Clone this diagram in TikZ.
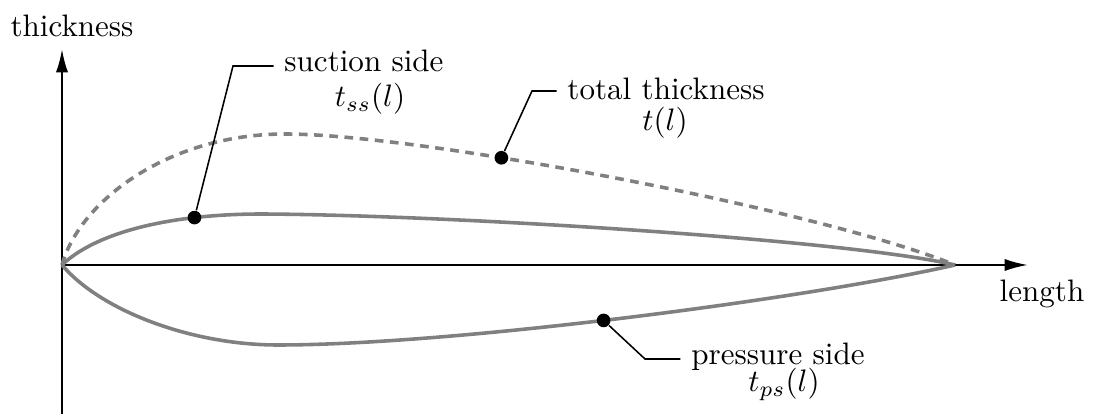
\documentclass[tikz,border=0pt]{standalone}
\usetikzlibrary{arrows.meta}
\begin{document}
\begin{tikzpicture}[x=0.322pt,y=-0.322pt,
  axis/.style={line width=0.7pt,-{Latex[length=7.5pt,width=3.9pt]}},
  prof/.style={gray,line width=1.15pt},
  tot/.style={gray,line width=1.15pt,dash pattern=on 2.8pt off 2.1pt},
  lead/.style={line width=0.5pt},
  dot/.style={circle,fill=black,inner sep=0pt,minimum size=4.4pt},
  lab/.style={anchor=base,inner sep=3.33pt}]
\useasboundingbox (0,0) rectangle (1095,414);
% axes
\coordinate (O) at (62,265);
\coordinate (ybot) at (62,414);
\coordinate (ytop) at (62,49);
\coordinate (xend) at (1028,265);
\draw[axis] (ybot) -- (ytop);
\draw[axis] (O) -- (xend);
\node[lab] (ylab) at (72,37) {thickness};
\node[lab] (xlab) at (1042,302) {length};
% profile
\draw[prof] (O) .. controls (92,236) and (160,214) .. (262,214) coordinate[pos=0.76] (ssp)
  .. controls (450,215) and (850,240) .. (955,265);
\draw[prof] (O) .. controls (100,310) and (190,345) .. (278,345)
  .. controls (450,345) and (800,300) .. (955,265) coordinate[pos=0.475] (psp);
\draw[tot] (O) .. controls (80,200) and (170,134) .. (285,134)
  .. controls (420,134) and (820,210) .. (955,265) coordinate[pos=0.35] (ttp);
% labels
\node[lab] (ssl) at (364,72) {suction side};
\node[lab] (ssm) at (370,107) {$t_{ss}(l)$};
\node[lab] (ttl) at (666,100) {total thickness};
\node[lab] (ttm) at (665,131) {$t(l)$};
\node[lab] (psl) at (778,365) {pressure side};
\node[lab] (psm) at (784,392) {$t_{ps}(l)$};
% dots
\node[dot] (ssd) at (ssp) {};
\node[dot] (ttd) at (ttp) {};
\node[dot] (psd) at (psp) {};
% leaders
\coordinate (ssk) at (233,66);
\coordinate (ttk) at (532,91);
\coordinate (psk) at (645,359);
\draw[lead] (ssd) -- (ssk) -- (ssk -| ssl.west);
\draw[lead] (ttd) -- (ttk) -- (ttk -| ttl.west);
\draw[lead] (psd) -- (psk) -- (psk -| psl.west);
\end{tikzpicture}
\end{document}
